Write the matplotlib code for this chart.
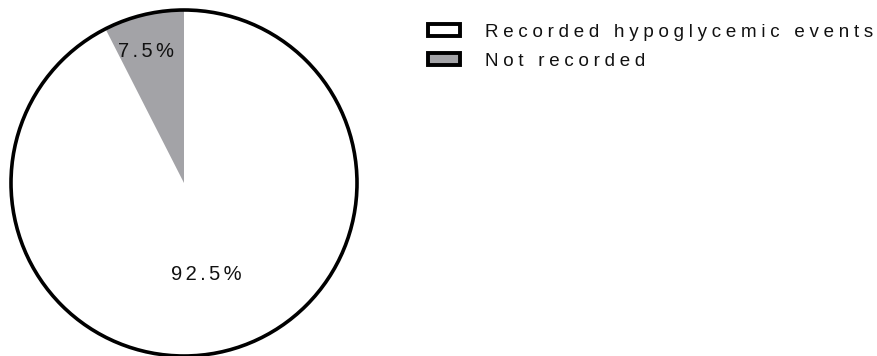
import numpy as np
import matplotlib.pyplot as plt
from matplotlib.patches import Patch, Circle

labels = ["Recorded hypoglycemic events", "Not recorded"]
values = [92.5, 7.5]
colors = ["white", "#a3a3a7"]

# label placement: fraction of radius, extra turn in degrees from wedge middle
pct_dist = [0.545, 0.79]
pct_turn = [0.0, 2.5]

FAM = ["Liberation Sans", "DejaVu Sans"]


def spaced(s, gap):
    # wide letter tracking like the original
    return gap.join(s)


fig = plt.figure(figsize=(8.77, 3.56), dpi=100)
ax = fig.add_axes([11 / 877, 0.0, 346 / 877, 346 / 356])

wedges, _, autotexts = ax.pie(values, colors=colors, startangle=90, counterclock=False,
                              autopct="%.1f%%", wedgeprops=dict(linewidth=0))
for w, t, d, turn in zip(wedges, autotexts, pct_dist, pct_turn):
    mid = np.deg2rad((w.theta1 + w.theta2) / 2 + turn)
    t.set_position((d * np.cos(mid), d * np.sin(mid)))
    t.set_text(spaced(t.get_text(), "\u2006"))
    t.set_fontsize(14.5)
    t.set_family(FAM)
    t.set_color("#111111")

ax.add_patch(Circle((0, 0), 1.0, fill=False, edgecolor="black", lw=2.6, clip_on=False))
ax.set_xlim(-1, 1)
ax.set_ylim(-1, 1)
ax.set_aspect("equal")
ax.axis("off")

handles = [Patch(facecolor=c, edgecolor="black", linewidth=2.8) for c in colors]
leg = fig.legend(handles, [spaced(l, "\u2005") for l in labels], loc="upper left",
                 bbox_to_anchor=(428 / 877, 1 - 24 / 356), frameon=False,
                 borderpad=0, borderaxespad=0, handlelength=1.72, handleheight=0.62,
                 handletextpad=1.3, labelspacing=0.63,
                 prop=dict(family=FAM, size=13.5))
for t in leg.get_texts():
    t.set_color("#111111")

fig.savefig("out.png", dpi=100)
